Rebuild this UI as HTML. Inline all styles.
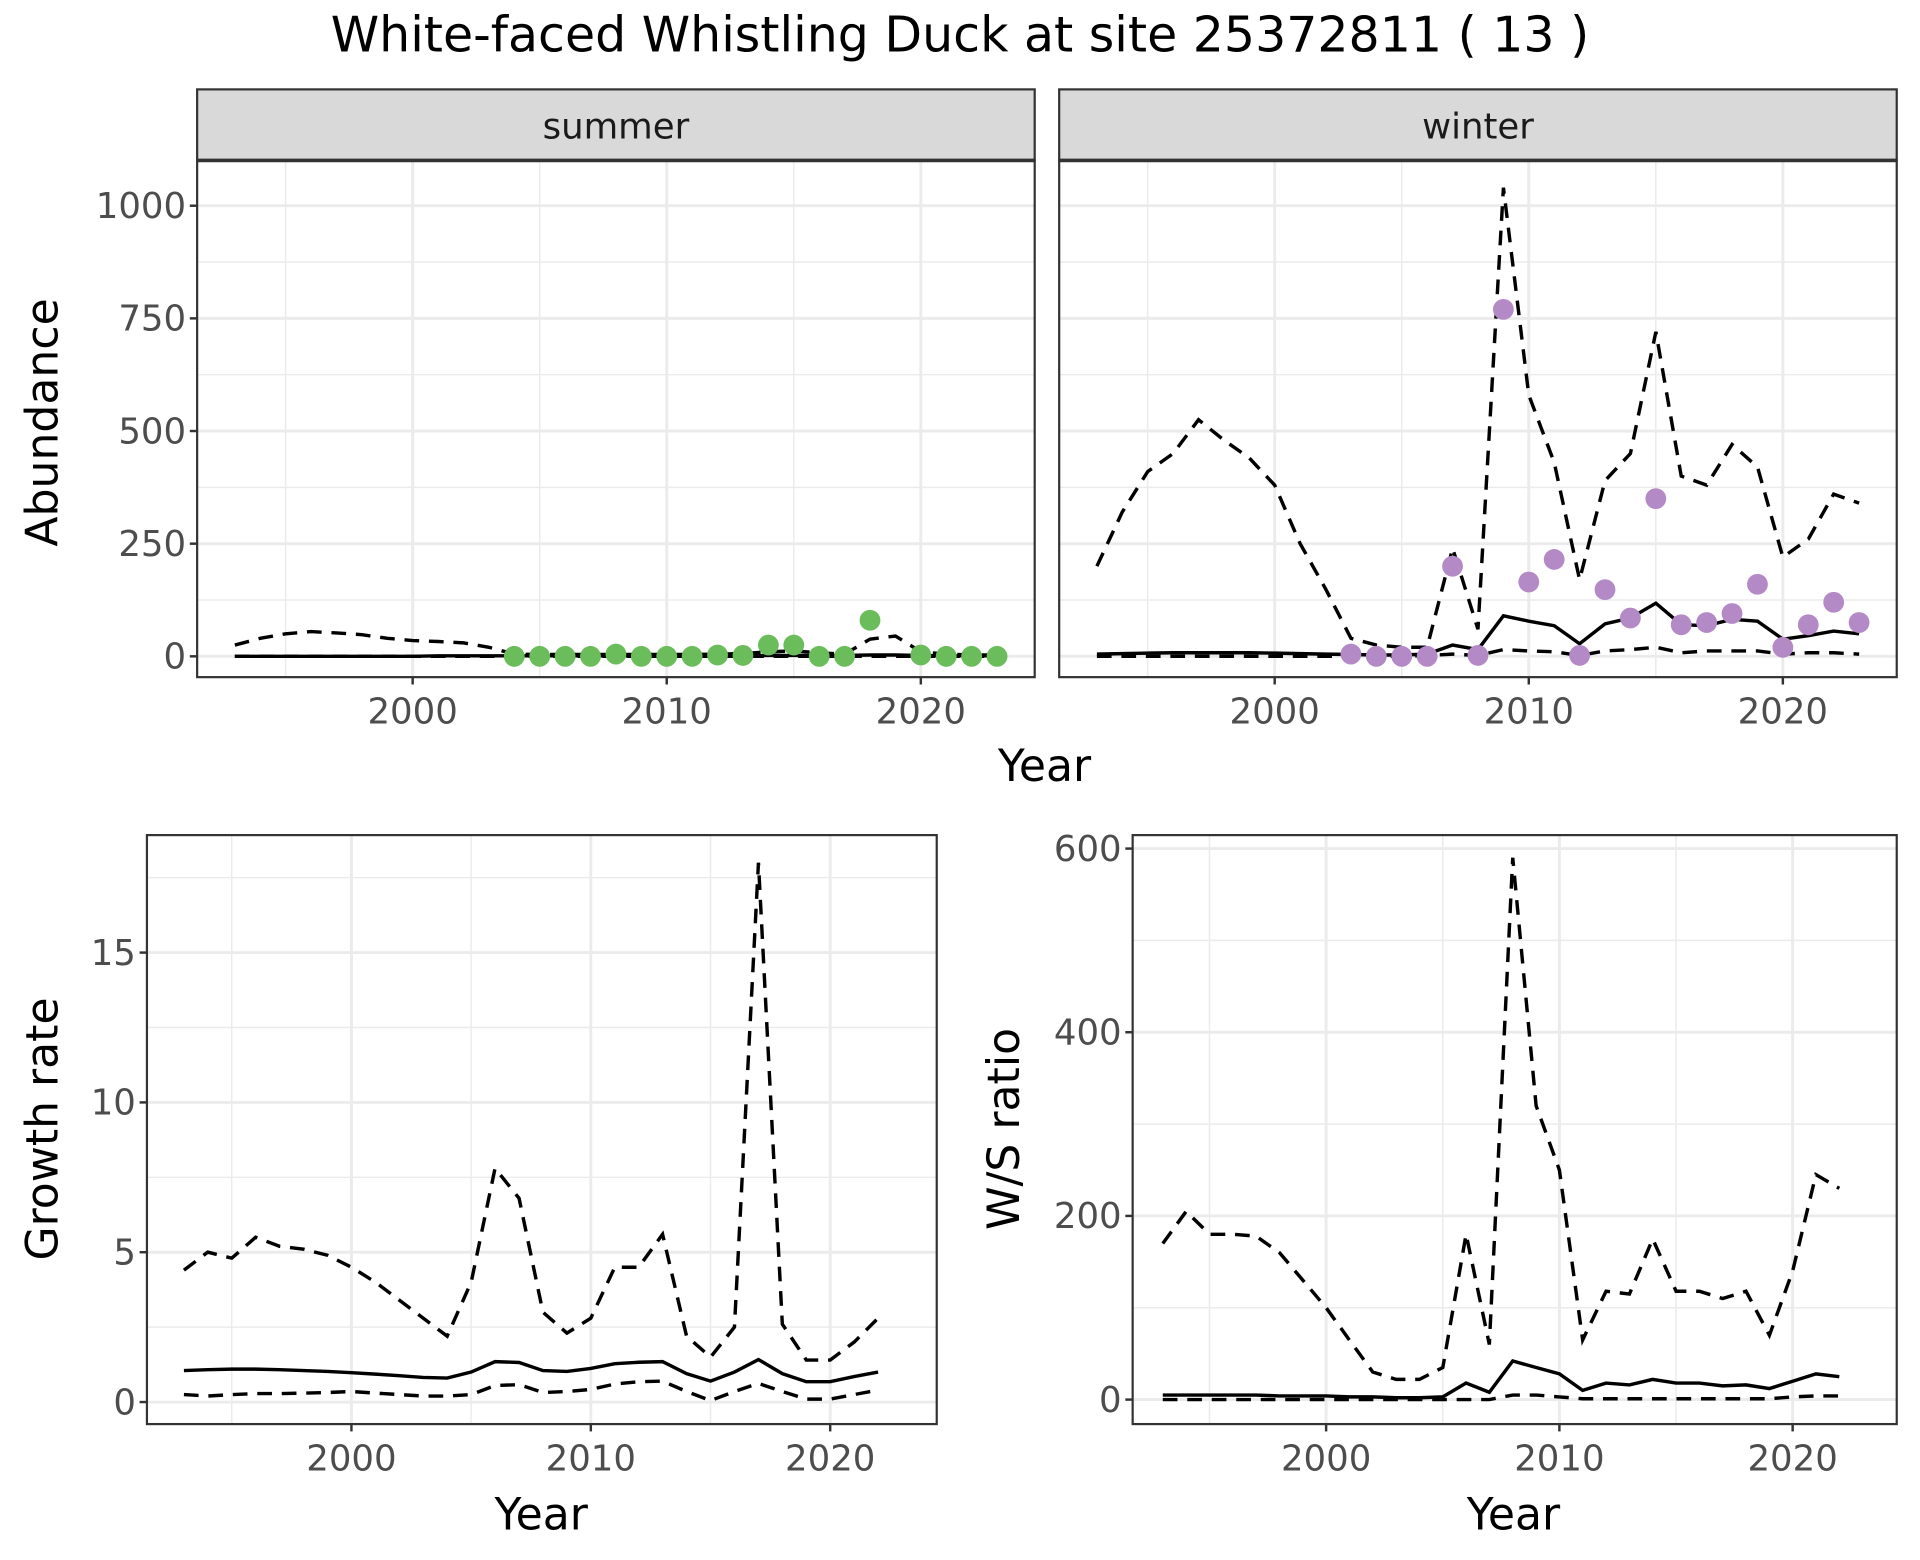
<!DOCTYPE html>
<html><head><meta charset="utf-8"><style>
html,body{margin:0;padding:0;background:#fff;}
svg{display:block;font-family:"DejaVu Sans","Liberation Sans",sans-serif;}
</style></head><body>
<svg id="chart" width="1920" height="1560" viewBox="0 0 1568 1274" xmlns="http://www.w3.org/2000/svg">
<text x="784" y="42" font-size="40" text-anchor="middle" fill="#000">White-faced Whistling Duck at site 25372811 ( 13 )</text>
</svg>
<script>
const yearsAll=[1993,1994,1995,1996,1997,1998,1999,2000,2001,2002,2003,2004,2005,2006,2007,2008,2009,2010,2011,2012,2013,2014,2015,2016,2017,2018,2019,2020,2021,2022,2023];
const summerMean=[0,0,0,0,0,0,0,0,1,1,1,1,1,1,1,1,1,1,1,1,1,2,2,2,2,3,3,2,1,1,1];
const summerUpper=[25,40,50,55,52,48,40,35,33,30,20,5,4,4,4,4,4,4,4,5,6,10,12,8,5,38,45,10,5,3,3];
const summerLower=[0,0,0,0,0,0,0,0,0,0,0,0,0,0,0,0,0,0,0,0,0,0,0,0,0,0,0,0,0,0,0];
const summerPtYears=[2004,2005,2006,2007,2008,2009,2010,2011,2012,2013,2014,2015,2016,2017,2018,2020,2021,2022,2023];
const summerPts=[0,0,0,0,5,0,0,0,3,2,25,25,0,0,80,3,0,0,0];
const winterMean=[5,6,7,8,8,8,8,7,6,5,4,3,3,5,25,15,90,78,68,28,72,85,118,70,68,82,78,38,46,56,50];
const winterUpper=[200,320,410,450,525,480,440,380,250,150,40,25,20,20,240,60,1040,580,430,170,390,450,720,400,380,470,420,220,260,360,340];
const winterLower=[0,0,0,0,0,0,0,0,0,0,0,0,0,2,5,2,15,12,10,2,12,15,20,8,12,12,12,5,8,8,5];
const winterPtYears=[2003,2004,2005,2006,2007,2008,2009,2010,2011,2012,2013,2014,2015,2016,2017,2018,2019,2020,2021,2022,2023];
const winterPts=[5,0,0,0,200,2,770,165,215,2,148,85,350,70,75,95,160,20,70,120,75];
const yearsGR=[1993,1994,1995,1996,1997,1998,1999,2000,2001,2002,2003,2004,2005,2006,2007,2008,2009,2010,2011,2012,2013,2014,2015,2016,2017,2018,2019,2020,2021,2022];
const grUpper=[4.4,5.0,4.8,5.5,5.2,5.1,4.9,4.5,4.0,3.4,2.8,2.2,4.0,7.8,6.8,3.0,2.3,2.8,4.5,4.5,5.6,2.2,1.5,2.5,18,2.6,1.4,1.4,2.0,2.8];
const grMean=[1.05,1.08,1.1,1.1,1.08,1.05,1.02,0.98,0.93,0.88,0.82,0.8,1.0,1.35,1.32,1.05,1.02,1.12,1.28,1.33,1.35,0.95,0.7,1.0,1.42,0.95,0.68,0.68,0.85,1.0];
const grLower=[0.25,0.2,0.25,0.28,0.28,0.3,0.32,0.35,0.3,0.25,0.2,0.2,0.25,0.55,0.58,0.32,0.35,0.42,0.6,0.68,0.7,0.35,0.05,0.35,0.62,0.35,0.1,0.1,0.25,0.4];
const wsUpper=[170,205,180,180,178,160,130,100,65,30,22,22,35,180,60,590,320,250,65,118,115,175,118,118,110,118,70,140,245,230];
const wsMean=[5,5,5,5,5,4,4,4,3,3,2,2,3,18,8,42,35,28,10,18,16,22,18,18,15,16,12,20,28,25];
const wsLower=[0,0,0,0,0,0,0,0,0,0,0,0,0,0,0,5,5,3,1,1,1,1,1,1,1,1,1,3,4,4];
const xTicks=[2000,2010,2020];
const abTicks=[0,250,500,750,1000];
const grTicks=[0,5,10,15];
const wsTicks=[0,200,400,600];

const NS="http://www.w3.org/2000/svg";
const svg=document.getElementById('chart');
function el(tag,attrs,parent){const e=document.createElementNS(NS,tag);for(const k in attrs)e.setAttribute(k,attrs[k]);(parent||svg).appendChild(e);return e;}
const TICKFS=29;

function panel(name,x0,x1,y0,y1,xs,ys,yTicks,yMinor,showY){
  const g=el('g',{});
  
  
  el('rect',{x:x0,y:y0,width:x1-x0,height:y1-y0,fill:'#fff'},g);
  [1995,2005,2015].forEach(v=>{const l=el('line',{x1:xs(v),x2:xs(v),y1:y0,y2:y1,stroke:'#ebebeb','stroke-width':1.2},g);});
  yMinor.forEach(v=>{const l=el('line',{x1:x0,x2:x1,y1:ys(v),y2:ys(v),stroke:'#ebebeb','stroke-width':1.2},g);});
  xTicks.forEach(v=>{const l=el('line',{x1:xs(v),x2:xs(v),y1:y0,y2:y1,stroke:'#ebebeb','stroke-width':2.4},g);
    const t=el('line',{x1:xs(v),x2:xs(v),y1:y1,y2:y1+6,stroke:'#333','stroke-width':2},g);
    const tx=el('text',{x:xs(v),y:y1+38,'font-size':TICKFS,fill:'#4d4d4d','text-anchor':'middle'},g);tx.textContent=v;});
  yTicks.forEach(v=>{const l=el('line',{x1:x0,x2:x1,y1:ys(v),y2:ys(v),stroke:'#ebebeb','stroke-width':2.4},g);
    if(showY){const t=el('line',{x1:x0-6,x2:x0,y1:ys(v),y2:ys(v),stroke:'#333','stroke-width':2},g);
    const tx=el('text',{x:x0-9,y:ys(v)+10,'font-size':TICKFS,fill:'#4d4d4d','text-anchor':'end'},g);tx.textContent=v;}});
  return g;
}
function line(g,xs,ys,years,vals,dashed,name){
  const d=vals.map((v,i)=>(i?'L':'M')+xs(years[i]).toFixed(1)+','+ys(v).toFixed(1)).join('');
  const p=el('path',{d:d,fill:'none',stroke:'#000','stroke-width':2.8,'stroke-dasharray':dashed?'12,8':'none'},g);
  
  
}
function pts(g,xs,ys,years,vals,color,name){
  vals.forEach((v,i)=>{const c=el('circle',{cx:xs(years[i]),cy:ys(v),r:8.5,fill:color},g);
    
    });
}
function border(g,x0,x1,y0,y1){
  el('rect',{x:x0,y:y0,width:x1-x0,height:y1-y0,fill:'none',stroke:'#333','stroke-width':1.8},g);
}
function strip(x0,x1,label,name){
  const g=el('g',{});
  
  
  el('rect',{x:x0,y:73,width:x1-x0,height:58,fill:'#d9d9d9',stroke:'#333','stroke-width':1.8},g);
  el('line',{x1:x0,x2:x1,y1:131,y2:131,stroke:'#333','stroke-width':3},g);
  const t=el('text',{x:(x0+x1)/2,y:113,'font-size':29,fill:'#1a1a1a','text-anchor':'middle'},g);t.textContent=label;
}
function lbl(x,y,text,rot,name){const t=el('text',{x:x,y:y,'font-size':36,fill:'#000','text-anchor':'middle',transform:rot?`rotate(-90 ${x} ${y})`:''});t.textContent=text;}

// Top row
const abY=v=>536-v*0.368;
const abMinor=[125,375,625,875];
const xsL=v=>337+(v-2000)*20.75;
const xsR=v=>1041+(v-2000)*20.75;
let g=panel('summer-panel',161,845,131,553,xsL,abY,abTicks,abMinor,true);
line(g,xsL,abY,yearsAll,summerUpper,true,'summer-upper-line');
line(g,xsL,abY,yearsAll,summerLower,true,'summer-lower-line');
line(g,xsL,abY,yearsAll,summerMean,false,'summer-mean-line');
pts(g,xsL,abY,summerPtYears,summerPts,'#6abd5a','summer-point');
border(g,161,845,131,553);
g=panel('winter-panel',865,1549,131,553,xsR,abY,abTicks,abMinor,false);
line(g,xsR,abY,yearsAll,winterUpper,true,'winter-upper-line');
line(g,xsR,abY,yearsAll,winterLower,true,'winter-lower-line');
line(g,xsR,abY,yearsAll,winterMean,false,'winter-mean-line');
pts(g,xsR,abY,winterPtYears,winterPts,'#b48ac6','winter-point');
border(g,865,1549,131,553);
strip(161,845,'summer','summer-strip');
strip(865,1549,'winter','winter-strip');
lbl(853,638,'Year',false,'x-axis-title-top');
lbl(47,345,'Abundance',true,'y-axis-title-abundance');

// Growth rate
const grY=v=>1145-v*24.47;
const grX=v=>287+(v-2000)*19.55;
g=panel('growth-panel',120,765,682,1163,grX,grY,grTicks,[2.5,7.5,12.5,17.5],true);
line(g,grX,grY,yearsGR,grUpper,true,'growth-upper-line');
line(g,grX,grY,yearsGR,grLower,true,'growth-lower-line');
line(g,grX,grY,yearsGR,grMean,false,'growth-mean-line');
border(g,120,765,682,1163);
lbl(442,1249,'Year',false,'x-axis-title-growth');
lbl(47,922,'Growth rate',true,'y-axis-title-growth');

// WS ratio
const wsY=v=>1143-v*0.75;
const wsX=v=>1083+(v-2000)*19.05;
g=panel('ws-panel',925,1549,682,1163,wsX,wsY,wsTicks,[100,300,500],true);
line(g,wsX,wsY,yearsGR,wsUpper,true,'ws-upper-line');
line(g,wsX,wsY,yearsGR,wsLower,true,'ws-lower-line');
line(g,wsX,wsY,yearsGR,wsMean,false,'ws-mean-line');
border(g,925,1549,682,1163);
lbl(1236,1249,'Year',false,'x-axis-title-ws');
lbl(832,922,'W/S ratio',true,'y-axis-title-ws');
</script>
</body></html>
